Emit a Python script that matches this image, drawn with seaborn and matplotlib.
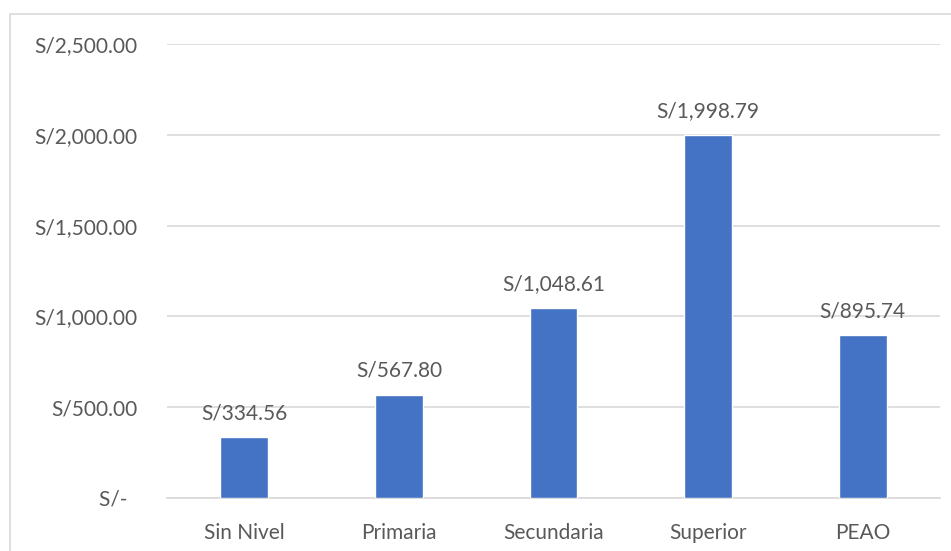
import matplotlib
matplotlib.use("Agg")
import matplotlib.pyplot as plt
import seaborn as sns
import pandas as pd
from matplotlib.patches import Rectangle

# datos del grafico
niveles = ["Sin Nivel", "Primaria", "Secundaria", "Superior", "PEAO"]
ingreso = [334.56, 567.80, 1048.61, 1998.79, 895.74]
y_ticks = [0, 500, 1000, 1500, 2000, 2500]

df = pd.DataFrame({"nivel": niveles, "ingreso": ingreso})

sns.set_style("white")
plt.rcParams["font.family"] = ["Lato", "DejaVu Sans"]
gris = "#595959"
fs = 15

fig = plt.figure(figsize=(9.51, 5.51), dpi=100)
ax = fig.add_axes([167 / 951, 1 - 498 / 551, 773 / 951, 454 / 551])

sns.barplot(data=df, x="nivel", y="ingreso", color="#4472C4", width=0.31,
            saturation=1, ax=ax, zorder=3)

def fmt(v):
    if v == 0:
        return "S/-  "
    return "S/{:,.2f}".format(v)

ax.set_ylim(0, 2500)
ax.set_yticks(y_ticks)
ax.set_yticklabels([fmt(v) for v in y_ticks])
ax.yaxis.grid(True, color="#D9D9D9", linewidth=1.2, zorder=0)
ax.set_axisbelow(True)
for s in ["top", "right", "left"]:
    ax.spines[s].set_visible(False)
ax.spines["bottom"].set_color("#D9D9D9")
ax.spines["bottom"].set_linewidth(1.2)
ax.tick_params(axis="y", length=0, pad=21, labelsize=fs, labelcolor=gris)
ax.tick_params(axis="x", length=0, pad=18, labelsize=fs, labelcolor=gris)
ax.set_xlabel("")
ax.set_ylabel("")

ax.bar_label(ax.containers[0], labels=[fmt(v) for v in ingreso],
             padding=10, fontsize=fs, color=gris)

fig.patches.append(Rectangle((10 / 951, -0.1), 1.0, (551 - 14) / 551 + 0.1,
                             transform=fig.transFigure, fill=False,
                             edgecolor="#D9D9D9", linewidth=1.2))

fig.savefig("out.png", dpi=100)
